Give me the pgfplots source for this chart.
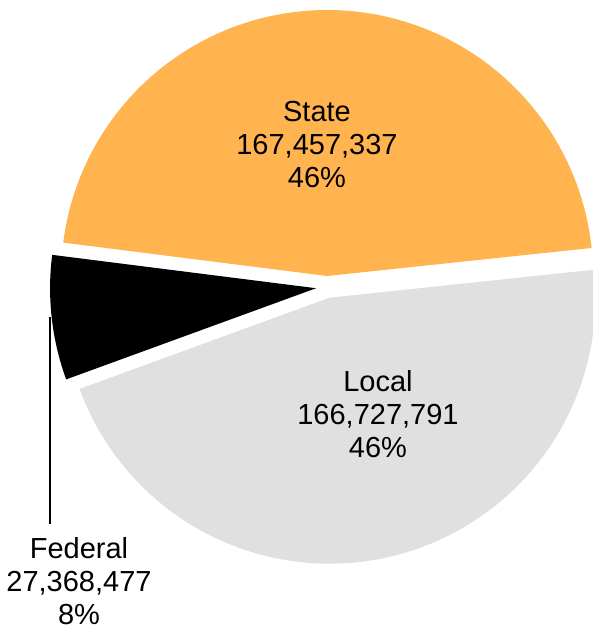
\documentclass[border=0pt]{standalone}
\usepackage{pgfplots}
\pgfplotsset{compat=1.18}
\usepackage{fontspec}
\setmainfont{Liberation Sans}
\definecolor{stateC}{RGB}{255,180,80}
\definecolor{localC}{RGB}{224,224,224}

% values in millions
\def\vState{167.457337}
\def\vLocal{166.727791}
\def\vFed{27.368477}
\def\R{266}      % pie radius (axis units = px)
\def\ex{11}      % explode distance
\def\start{6.05} % first slice angle

\begin{document}
\begin{tikzpicture}
  \pgfmathsetmacro\tot{\vState+\vLocal+\vFed}
  \pgfmathsetmacro\aA{\start}
  \pgfmathsetmacro\aB{\aA+\vState/\tot*360}
  \pgfmathsetmacro\aC{\aB+\vFed/\tot*360}
  \pgfmathsetmacro\aD{\start+360}
  \pgfmathsetmacro\sSx{0.5*\ex*cos((\aA+\aB)/2)}
  \pgfmathsetmacro\sSy{0.5*\ex*sin((\aA+\aB)/2)}
  \pgfmathsetmacro\sFx{0.5*\ex*cos((\aB+\aC)/2)}
  \pgfmathsetmacro\sFy{0.5*\ex*sin((\aB+\aC)/2)}
  \pgfmathsetmacro\sLx{0.5*\ex*cos((\aC+\aD)/2)}
  \pgfmathsetmacro\sLy{0.5*\ex*sin((\aC+\aD)/2)}
  \begin{axis}[
    x=0.5pt, y=0.5pt,
    xmin=-327, xmax=266,
    ymin=-342, ymax=287,
    hide axis, clip=false,
    anchor=origin, at={(0,0)},
  ]
    \addplot[draw=none, fill=stateC, data cs=polar, domain=\aA:\aB, samples=150,
      xshift=\sSx pt, yshift=\sSy pt] ({x},{\R}) -- (axis cs:0,0) -- cycle;
    \addplot[draw=none, fill=black, data cs=polar, domain=\aB:\aC, samples=60,
      xshift=\sFx pt, yshift=\sFy pt] ({x},{\R}) -- (axis cs:0,0) -- cycle;
    \addplot[draw=none, fill=localC, data cs=polar, domain=\aC:\aD, samples=150,
      xshift=\sLx pt, yshift=\sLy pt] ({x},{\R}) -- (axis cs:0,0) -- cycle;

    % leader line for Federal
    \addplot[black, line width=0.75pt] coordinates {(-277,-30) (-277,-237)};

    \node[align=center, font=\fontsize{14.5}{16.5}\selectfont] at (axis cs:-10,142)
      {State\\167,457,337\\46\%};
    \node[align=center, font=\fontsize{14.5}{16.5}\selectfont] at (axis cs:51,-127)
      {Local\\166,727,791\\46\%};
    \node[align=center, font=\fontsize{14.5}{16.5}\selectfont] at (axis cs:-248,-294)
      {Federal\\27,368,477\\8\%};
  \end{axis}
  \pgfresetboundingbox
  \path (-163.5pt,-171pt) rectangle (133pt,143.5pt);
\end{tikzpicture}
\end{document}
